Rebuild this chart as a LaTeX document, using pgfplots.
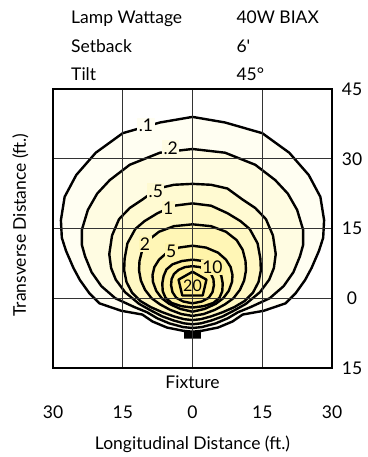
\documentclass[border=0pt]{standalone}
\usepackage{pgfplots}
\pgfplotsset{compat=1.18}
\usepackage{pgfplotstable}
\usepackage{fontspec}
\setmainfont{Lato}
\newfontfamily\straight{Lato}[Ligatures=TeXOff]

\definecolor{c1}{HTML}{FFFEF2}
\definecolor{c2}{HTML}{FFFCE2}
\definecolor{c3}{HTML}{FFFAD2}
\definecolor{c4}{HTML}{FFF8C4}
\definecolor{c5}{HTML}{FFF6B6}
\definecolor{c6}{HTML}{FFF4A9}
\definecolor{c7}{HTML}{FFF29F}
\definecolor{c8}{HTML}{FFF097}
\definecolor{c9}{HTML}{FFEE8E}

% ring .1
\pgfplotstableread{
x y
0 39.0
7 37.8
15 35.5
20.8 31.3
25 26.5
27.5 21.8
28.3 16.8
28.1 13
27.2 10.2
25.6 6.5
24.2 3.9
22.2 1.1
20 -1.1
15.3 -2.7
10.8 -3.5
8.6 -5.0
5.5 -6.3
2 -7.0
0 -7.2
-2 -7.0
-5.5 -6.3
-8.6 -5.0
-10.8 -3.5
-15.3 -2.7
-20 -1.1
-22.2 1.1
-24.2 3.9
-25.6 6.5
-27.2 10.2
-28.1 13
-28.3 16.8
-27.5 21.8
-25 26.5
-20.8 31.3
-15 35.5
-7 37.8
0 39.0
}\Ra
% ring .2
\pgfplotstableread{
x y
0 32.1
7 31.3
13.5 28.7
17.8 25.4
20.5 22.5
22.5 19
23.8 14.7
23.8 11.5
23.1 9
21.7 5.6
19.6 2.6
16.6 0
12.5 -1.9
9.8 -3.0
7.6 -4.3
5 -5.4
2 -6.2
0 -6.4
-2 -6.2
-5 -5.4
-7.6 -4.3
-9.8 -3.0
-12.5 -1.9
-16.6 0
-19.6 2.6
-21.7 5.6
-23.1 9
-23.8 11.5
-23.8 14.7
-22.5 19
-20.5 22.5
-17.8 25.4
-13.5 28.7
-7 31.3
0 32.1
}\Rb
% ring .5
\pgfplotstableread{
x y
0 24.6
4 24.4
7.5 23.6
10.8 21.2
13.5 19.4
15.8 17
17.3 13.5
17.9 9.5
17.5 6.5
16.5 4
14.5 1.3
11.5 -1.2
9 -2.6
6.5 -3.9
4 -4.8
1.8 -5.4
0 -5.6
-1.8 -5.4
-4 -4.8
-6.5 -3.9
-9 -2.6
-11.5 -1.2
-14.5 1.3
-16.5 4
-17.5 6.5
-17.9 9.5
-17.3 13.5
-15.8 17
-13.5 19.4
-10.8 21.2
-7.5 23.6
-4 24.4
0 24.6
}\Rc
% ring 1
\pgfplotstableread{
x y
0 20.4
4 19.9
7.5 18.3
10.3 16.6
12.3 14.9
14 11.8
14.6 8.5
14.7 6
14.2 3.5
13 1.2
11.2 -0.6
9 -1.9
6.5 -3.0
4 -3.9
1.8 -4.5
0 -4.7
-1.8 -4.5
-4 -3.9
-6.5 -3.0
-9 -1.9
-11.2 -0.6
-13 1.2
-14.2 3.5
-14.7 6
-14.6 8.5
-14 11.8
-12.3 14.9
-10.3 16.6
-7.5 18.3
-4 19.9
0 20.4
}\Rd
% ring 2
\pgfplotstableread{
x y
0 15.9
4 15.5
7.2 14.3
9.5 12.5
10.8 10.4
11.4 8
11.5 6
11.1 3.8
10.2 1.8
8.8 0
7 -1.3
4.8 -2.5
2.4 -3.4
0 -3.8
-2.4 -3.4
-4.8 -2.5
-7 -1.3
-8.8 0
-10.2 1.8
-11.1 3.8
-11.5 6
-11.4 8
-10.8 10.4
-9.5 12.5
-7.2 14.3
-4 15.5
0 15.9
}\Re
% ring 5
\pgfplotstableread{
x y
0 11.3
2.9 10.9
5.5 9.8
7.2 8.3
8.2 6.7
8.6 5
8.5 3.5
7.8 1.6
6.6 0
5 -1.2
2.6 -2.3
0 -2.9
-2.6 -2.3
-5 -1.2
-6.6 0
-7.8 1.6
-8.5 3.5
-8.6 5
-8.2 6.7
-7.2 8.3
-5.5 9.8
-2.9 10.9
0 11.3
}\Rf
% ring 10
\pgfplotstableread{
x y
0 8.3
2.3 8.0
4.3 7.3
5.6 6.2
6.2 4.8
6.5 3.2
6.4 1.5
5.8 0.1
4.5 -1.0
2.4 -1.7
0 -2.0
-2.4 -1.7
-4.5 -1.0
-5.8 0.1
-6.4 1.5
-6.5 3.2
-6.2 4.8
-5.6 6.2
-4.3 7.3
-2.3 8.0
0 8.3
}\Rg
% inner ring
\pgfplotstableread{
x y
0 6.9
1.6 6.7
3.0 6.1
4.0 5.2
4.5 4.1
4.6 2.8
4.3 1.3
3.5 0.1
2.0 -0.7
0 -1.1
-2.0 -0.7
-3.5 0.1
-4.3 1.3
-4.6 2.8
-4.5 4.1
-4.0 5.2
-3.0 6.1
-1.6 6.7
0 6.9
}\Rh
% ring 20
\pgfplotstableread{
x y
0 5.7
3.0 4.0
2.2 0.6
-2.2 0.6
-3.0 4.0
0 5.7
}\Ri

\begin{document}
\begin{tikzpicture}[font=\fontsize{17.5}{21}\selectfont]
\useasboundingbox (-53pt,-89pt) rectangle (314pt,368pt);
\begin{axis}[
  at={(0,0)}, anchor=south west,
  width=279pt, height=279pt, scale only axis,
  xmin=-30, xmax=30, ymin=-15, ymax=45,
  clip=false, axis on top,
  xtick={-30,-15,0,15,30}, xticklabels={30,15,0,15,30},
  ytick={-15,0,15,30,45}, yticklabels={15,0,15,30,45},
  yticklabel pos=right,
  grid=major,
  major grid style={black!80, line width=0.9pt},
  axis line style={line width=2.3pt},
  tick style={draw=none},
  ticklabel style={font=\fontsize{17.5}{21}\selectfont},
  xticklabel style={anchor=base, yshift=-50.5pt},
  yticklabel style={anchor=center, xshift=20pt},
]
\addplot[draw=none, fill=c1] table {\Ra};
\addplot[draw=none, fill=c2] table {\Rb};
\addplot[draw=none, fill=c3] table {\Rc};
\addplot[draw=none, fill=c4] table {\Rd};
\addplot[draw=none, fill=c5] table {\Re};
\addplot[draw=none, fill=c6] table {\Rf};
\addplot[draw=none, fill=c7] table {\Rg};
\addplot[draw=none, fill=c8] table {\Rh};
\addplot[draw=none, fill=c9] table {\Ri};
\addplot[black, line width=2.4pt, line join=round] table {\Ra};
\addplot[black, line width=2.4pt, line join=round] table {\Rb};
\addplot[black, line width=2.4pt, line join=round] table {\Rc};
\addplot[black, line width=2.4pt, line join=round] table {\Rd};
\addplot[black, line width=2.4pt, line join=round] table {\Re};
\addplot[black, line width=2.4pt, line join=round] table {\Rf};
\addplot[black, line width=2.4pt, line join=round] table {\Rg};
\addplot[black, line width=2.4pt, line join=round] table {\Rh};
\addplot[black, line width=2.4pt, line join=round] table {\Ri};
\addplot[draw=none, fill=black] coordinates {(-1.8,-7.3) (1.8,-7.3) (1.8,-8.7) (-1.8,-8.7) (-1.8,-7.3)};
\tikzset{cl/.style={font=\fontsize{17.5}{20}\selectfont, inner sep=1.4pt}}
\node[cl, fill=c1] at (axis cs:-10.0,37.2) {.1};
\node[cl, fill=c2] at (axis cs:-4.7,32.3) {.2};
\node[cl, fill=c3] at (axis cs:-7.9,23.1) {.5};
\node[cl, fill=c4] at (axis cs:-5.2,19.3) {1};
\node[cl, fill=c5] at (axis cs:-10.2,11.7) {2};
\node[cl, fill=c6] at (axis cs:-4.6,10.2) {5};
\node[cl, fill=c7] at (axis cs:4.3,6.6) {10};
\node[cl, fill=c9, inner sep=0pt, font=\fontsize{16}{18}\selectfont] at (axis cs:0,2.7) {20};
\end{axis}
\node[anchor=base west] at (14.7pt,344pt) {Lamp Wattage};
\node[anchor=base west] at (14.7pt,315pt) {Setback};
\node[anchor=base west] at (14.7pt,287pt) {Tilt};
\node[anchor=base west] at (180pt,344pt) {40W BIAX};
\node[anchor=base west] at (180pt,315pt) {\straight 6'};
\node[anchor=base west] at (180pt,287pt) {45°};
\node[anchor=base] at (139.5pt,-21pt) {Fixture};
\node[anchor=base] at (139.5pt,-81pt) {Longitudinal Distance (ft.)};
\node[anchor=base, rotate=90] at (-27pt,143pt) {Transverse Distance (ft.)};
\end{tikzpicture}
\end{document}
